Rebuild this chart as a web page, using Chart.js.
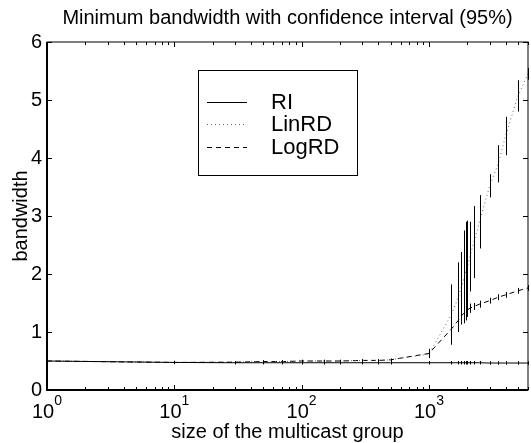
<!DOCTYPE html>
<html>
<head>
<meta charset="utf-8">
<script src="https://cdn.jsdelivr.net/npm/chart.js@4.4.0/dist/chart.umd.min.js"></script>
<style>
  html, body { margin: 0; padding: 0; background: #fff; }
</style>
</head>
<body>
<canvas id="chart" width="531" height="443"></canvas>
<script>
// size of the multicast group (x)
const groupSizes = [1, 10, 30, 50, 70, 100, 150, 200, 300, 400, 500, 1000, 1500, 1700, 1800, 1900, 1950, 2000, 2100, 2250, 2500, 3000, 3500, 4000, 5000, 6000];

// mean bandwidth per algorithm
const riValues  = [0.50, 0.475, 0.47, 0.47, 0.47, 0.47, 0.47, 0.47, 0.47, 0.47, 0.47, 0.47, 0.47, 0.47, 0.47, 0.47, 0.47, 0.47, 0.47, 0.47, 0.47, 0.465, 0.465, 0.465, 0.465, 0.465];
const linValues = [0.50, 0.475, 0.48, 0.49, 0.49, 0.50, 0.50, 0.50, 0.51, 0.51, 0.52, 0.62, 1.30, 1.60, 1.78, 1.95, 2.05, 2.12, 2.30, 2.55, 2.90, 3.52, 3.90, 4.38, 5.07, 5.45];
const logValues = [0.50, 0.475, 0.48, 0.49, 0.49, 0.50, 0.50, 0.50, 0.51, 0.51, 0.52, 0.63, 1.05, 1.20, 1.28, 1.33, 1.36, 1.38, 1.41, 1.44, 1.48, 1.54, 1.60, 1.64, 1.71, 1.76];

// half width of the 95% confidence interval
const riErrors  = [0.01, 0.03, 0.03, 0.03, 0.03, 0.03, 0.03, 0.03, 0.03, 0.03, 0.03, 0.03, 0.03, 0.03, 0.03, 0.03, 0.03, 0.03, 0.03, 0.03, 0.03, 0.03, 0.03, 0.03, 0.03, 0.03];
const linErrors = [0.01, 0.02, 0.02, 0.02, 0.02, 0.02, 0.02, 0.02, 0.02, 0.02, 0.02, 0.06, 0.52, 0.60, 0.60, 0.80, 0.85, 0.80, 0.60, 0.62, 0.46, 0.20, 0.32, 0.33, 0.27, 0.10];
const logErrors = [0.01, 0.02, 0.02, 0.02, 0.02, 0.02, 0.02, 0.02, 0.02, 0.02, 0.02, 0.08, 0.10, 0.15, 0.15, 0.15, 0.15, 0.12, 0.08, 0.06, 0.06, 0.05, 0.05, 0.05, 0.05, 0.05];

const yTicks = [0, 1, 2, 3, 4, 5, 6];
const xDecades = [0, 1, 2, 3];

const FONT = "'Liberation Sans', Arial, Helvetica, sans-serif";

function points(values) {
  return groupSizes.map((g, i) => ({ x: g, y: values[i] }));
}

// frame, inward ticks, x labels with exponents, error bars and legend
const decorations = {
  id: 'decorations',
  afterDatasetsDraw(chart) {
    const { ctx, chartArea: a, scales: { x, y } } = chart;
    ctx.save();

    // confidence intervals
    chart.data.datasets.forEach(ds => {
      ctx.strokeStyle = '#000';
      ctx.lineWidth = 1;
      ctx.setLineDash([]);
      ds.data.forEach((p, i) => {
        const e = ds.errors[i];
        const px = Math.round(x.getPixelForValue(p.x)) + 0.5;
        const y1 = y.getPixelForValue(p.y - e);
        const y2 = y.getPixelForValue(p.y + e);
        ctx.beginPath();
        ctx.moveTo(px, y1); ctx.lineTo(px, y2);
        ctx.stroke();
      });
    });

    // frame
    ctx.strokeStyle = '#000';
    ctx.lineWidth = 1;
    ctx.strokeRect(a.left, a.top, a.right - a.left, a.bottom - a.top);
    ctx.lineWidth = 2;
    ctx.beginPath();
    ctx.moveTo(a.left, a.top); ctx.lineTo(a.left, a.bottom); ctx.lineTo(a.right, a.bottom);
    ctx.stroke();

    // x ticks (log minor + major)
    ctx.lineWidth = 1;
    ctx.beginPath();
    x.ticks.forEach(t => {
      const px = Math.round(x.getPixelForValue(t.value)) + 0.5;
      const len = t.major ? 5 : 3;
      ctx.moveTo(px, a.bottom); ctx.lineTo(px, a.bottom - len);
      ctx.moveTo(px, a.top); ctx.lineTo(px, a.top + len);
    });
    // y ticks
    yTicks.forEach(v => {
      const py = Math.round(y.getPixelForValue(v)) + 0.5;
      ctx.moveTo(a.left, py); ctx.lineTo(a.left + 5, py);
      ctx.moveTo(a.right, py); ctx.lineTo(a.right - 5, py);
    });
    ctx.stroke();

    // x labels 10^k
    ctx.fillStyle = '#000';
    ctx.textBaseline = 'alphabetic';
    ctx.textAlign = 'left';
    xDecades.forEach(k => {
      const px = x.getPixelForValue(Math.pow(10, k));
      ctx.font = '20px ' + FONT;
      const w1 = ctx.measureText('10').width;
      ctx.font = '14px ' + FONT;
      const w2 = ctx.measureText(String(k)).width;
      const start = px - (w1 + w2) / 2;
      ctx.font = '20px ' + FONT;
      ctx.fillText('10', start, 418);
      ctx.font = '14px ' + FONT;
      ctx.fillText(String(k), start + w1, 405);
    });

    // legend
    const box = { left: 198, top: 70, right: 357, bottom: 175 };
    ctx.fillStyle = '#fff';
    ctx.fillRect(box.left, box.top, box.right - box.left, box.bottom - box.top);
    ctx.strokeStyle = '#000';
    ctx.lineWidth = 1;
    ctx.strokeRect(box.left + 0.5, box.top + 0.5, box.right - box.left, box.bottom - box.top);
    const rows = [102, 124, 147];
    chart.data.datasets.forEach((ds, i) => {
      const ry = rows[i] + 0.5;
      ctx.strokeStyle = ds.borderColor;
      ctx.lineWidth = ds.borderWidth;
      ctx.setLineDash(ds.borderDash || []);
      ctx.beginPath();
      ctx.moveTo(207, ry); ctx.lineTo(247, ry);
      ctx.stroke();
      ctx.setLineDash([]);
      ctx.fillStyle = '#000';
      ctx.font = '22px ' + FONT;
      ctx.textBaseline = 'middle';
      ctx.fillText(ds.label, 271, rows[i] + 1);
    });
    ctx.restore();
  }
};

new Chart(document.getElementById('chart'), {
  type: 'scatter',
  data: {
    datasets: [
      { label: 'RI', data: points(riValues), errors: riErrors,
        borderColor: '#000', borderWidth: 1, showLine: true, pointRadius: 0 },
      { label: 'LinRD', data: points(linValues), errors: linErrors,
        borderColor: '#666', borderWidth: 1, borderDash: [1, 3], showLine: true, pointRadius: 0 },
      { label: 'LogRD', data: points(logValues), errors: logErrors,
        borderColor: '#000', borderWidth: 1, borderDash: [5, 4], showLine: true, pointRadius: 0 }
    ]
  },
  options: {
    responsive: false,
    animation: false,
    layout: { padding: { left: 0, right: 1.5, top: 0, bottom: 0 } },
    plugins: {
      legend: { display: false },
      tooltip: { enabled: false },
      title: {
        display: true,
        fullSize: false,
        text: 'Minimum bandwidth with confidence interval (95%)',
        color: '#000',
        font: { family: FONT, size: 20, weight: 'normal', lineHeight: 1.2 },
        padding: { top: 6, bottom: 12 }
      }
    },
    scales: {
      x: {
        type: 'logarithmic',
        min: 1,
        max: 6000,
        grid: { display: false },
        border: { display: false },
        afterBuildTicks(scale) {
          const ticks = [];
          xDecades.forEach(k => {
            for (let m = 1; m <= 9; m++) {
              const v = m * Math.pow(10, k);
              if (v <= 6000) ticks.push({ value: v, major: m === 1 });
            }
          });
          scale.ticks = ticks;
        },
        ticks: { callback: () => '', font: { family: FONT, size: 18 } },
        afterFit(scale) { scale.height = 53; },
        title: {
          display: true,
          text: 'size of the multicast group',
          color: '#000',
          font: { family: FONT, size: 20, lineHeight: 1.2 },
          padding: { top: 0, bottom: -1 }
        }
      },
      y: {
        min: 0,
        max: 6,
        grid: { display: false, drawTicks: false },
        border: { display: false },
        ticks: { stepSize: 1, color: '#000', padding: 5, font: { family: FONT, size: 20 } },
        afterFit(scale) { scale.width = 47; },
        title: {
          display: true,
          text: 'bandwidth',
          color: '#000',
          font: { family: FONT, size: 20, lineHeight: 1.2 },
          padding: { top: 9, bottom: 0 }
        }
      }
    }
  },
  plugins: [decorations]
});
</script>
</body>
</html>
